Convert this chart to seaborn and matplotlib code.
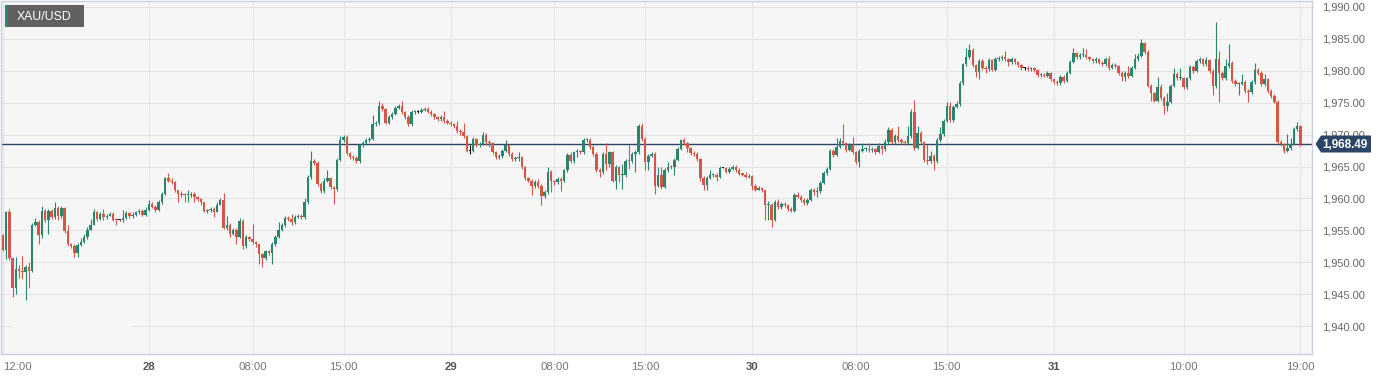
import numpy as np
import pandas as pd
import matplotlib
matplotlib.use("Agg")
import matplotlib.pyplot as plt
from matplotlib.patches import Rectangle, Polygon
import seaborn as sns

# 15-minute XAU/USD candles
symbol = "XAU/USD"
last_price = 1968.49
first_open = 1954.2

close_27 = [1952.0, 1957.9, 1950.6, 1945.9, 1949.0, 1948.6, 1948.5, 1949.2, 1948.6, 1955.9,
            1956.3, 1954.3, 1958.0, 1956.7, 1958.0, 1957.1, 1958.5, 1957.3, 1958.5, 1954.9,
            1952.8, 1952.5, 1951.4, 1952.7, 1953.2, 1953.9, 1955.1, 1955.9, 1957.9, 1956.8,
            1957.5, 1957.1, 1957.3, 1957.6, 1956.7, 1956.6, 1956.6, 1957.0, 1957.7, 1957.3,
            1957.4, 1957.8, 1958.0, 1957.4, 1958.2]
high_27 = [1954.5, 1958.1, 1958.4, 1950.8, 1950.8, 1949.5, 1951.0, 1949.5, 1950.0, 1956.2,
           1957.0, 1956.6, 1958.8, 1958.3, 1958.3, 1958.3, 1959.4, 1958.8, 1958.8, 1958.7,
           1955.9, 1953.0, 1952.9, 1953.0, 1953.8, 1954.4, 1955.5, 1956.8, 1958.4, 1958.1,
           1957.9, 1958.3, 1957.6, 1957.9, 1957.8, 1956.9, 1956.7, 1958.2, 1958.0, 1957.9,
           1957.8, 1958.1, 1958.4, 1958.3, 1958.6]
low_27 = [1951.8, 1950.5, 1950.3, 1944.6, 1945.1, 1947.6, 1947.4, 1944.1, 1945.9, 1948.4,
          1955.7, 1952.9, 1953.8, 1956.3, 1954.5, 1956.8, 1956.8, 1956.6, 1957.0, 1954.6,
          1952.5, 1952.2, 1950.8, 1950.9, 1952.6, 1953.0, 1953.7, 1955.0, 1955.8, 1956.5,
          1956.6, 1956.7, 1956.8, 1957.2, 1956.4, 1955.8, 1956.5, 1956.3, 1956.8, 1957.0,
          1957.0, 1957.3, 1957.6, 1957.2, 1957.2]

close_28 = [1959.2, 1958.7, 1958.2, 1959.4, 1960.7, 1963.2, 1962.8, 1962.6, 1961.3, 1960.7,
            1960.6, 1960.5, 1960.6, 1960.7, 1960.2, 1959.9, 1959.4, 1958.1, 1958.2, 1958.4,
            1957.9, 1959.0, 1959.8, 1955.4, 1955.8, 1954.5, 1955.0, 1954.0, 1956.5, 1952.5,
            1953.9, 1953.6, 1953.2, 1952.8, 1951.3, 1950.6, 1951.7, 1951.5, 1952.8, 1954.0,
            1955.1, 1955.9, 1956.9, 1956.8, 1956.3, 1957.1, 1957.3, 1957.1, 1959.4, 1963.3,
            1965.8, 1965.5, 1962.2, 1961.2, 1962.7, 1963.2, 1961.8, 1961.5, 1966.0, 1969.2,
            1969.7, 1967.1, 1966.5, 1966.4, 1965.8, 1968.3, 1968.7, 1969.2, 1969.3, 1971.7,
            1971.8, 1974.5, 1974.0, 1971.9, 1972.8, 1973.3, 1974.2, 1974.5, 1973.5, 1972.8,
            1971.7, 1973.5, 1973.6, 1973.6, 1973.9, 1974.0, 1973.6, 1973.2, 1972.7, 1972.45,
            1972.8, 1972.2, 1971.9]
high_28 = [1959.8, 1959.4, 1958.9, 1959.8, 1961.0, 1963.4, 1964.0, 1963.2, 1962.8, 1961.3,
           1961.1, 1960.9, 1961.3, 1961.0, 1961.0, 1960.4, 1960.0, 1959.5, 1958.4, 1958.7,
           1958.6, 1959.4, 1960.1, 1960.8, 1957.2, 1956.1, 1955.4, 1955.3, 1956.9, 1956.8,
           1954.2, 1954.1, 1956.0, 1953.4, 1952.9, 1951.5, 1952.0, 1951.9, 1953.1, 1954.3,
           1956.3, 1956.2, 1957.3, 1957.2, 1957.6, 1957.4, 1957.6, 1957.6, 1960.0, 1963.6,
           1967.4, 1966.2, 1965.8, 1962.5, 1963.2, 1964.4, 1963.4, 1962.0, 1966.3, 1969.8,
           1970.0, 1969.9, 1967.3, 1966.8, 1966.6, 1968.6, 1969.0, 1969.5, 1969.7, 1973.1,
           1972.1, 1975.2, 1975.0, 1974.2, 1973.1, 1973.6, 1974.5, 1974.8, 1975.3, 1973.7,
           1973.0, 1973.8, 1973.9, 1973.8, 1974.2, 1974.3, 1974.4, 1973.8, 1973.4, 1972.9,
           1973.1, 1973.75, 1972.4]
low_28 = [1958.0, 1958.5, 1957.9, 1958.0, 1959.2, 1960.5, 1962.6, 1962.3, 1961.0, 1959.4,
          1960.3, 1959.4, 1959.4, 1960.3, 1959.4, 1959.6, 1959.0, 1957.9, 1957.7, 1957.8,
          1957.1, 1957.8, 1958.9, 1955.2, 1955.1, 1953.9, 1954.2, 1952.8, 1953.8, 1952.1,
          1952.3, 1953.3, 1952.9, 1952.4, 1949.8, 1949.2, 1950.3, 1951.1, 1949.8, 1952.6,
          1953.8, 1954.9, 1955.6, 1956.5, 1955.8, 1956.0, 1956.9, 1956.8, 1956.8, 1959.2,
          1963.0, 1965.2, 1961.9, 1960.9, 1960.9, 1962.5, 1961.5, 1959.1, 1961.2, 1965.8,
          1968.9, 1966.8, 1966.2, 1966.0, 1965.5, 1965.6, 1968.0, 1968.5, 1968.9, 1969.1,
          1971.4, 1971.5, 1973.7, 1971.6, 1971.6, 1972.5, 1973.1, 1974.0, 1973.2, 1972.5,
          1971.4, 1971.4, 1973.3, 1973.4, 1973.4, 1973.7, 1973.4, 1972.9, 1972.4, 1972.1,
          1972.2, 1971.9, 1971.6]

close_29 = [1971.7, 1971.4, 1970.6, 1970.4, 1969.8, 1967.5, 1967.5, 1969.3, 1968.3, 1968.5,
            1970.0, 1968.8, 1968.7, 1967.3, 1966.5, 1966.6, 1967.5, 1968.4, 1967.0, 1966.2,
            1966.3, 1966.5, 1964.9, 1963.2, 1962.8, 1962.0, 1962.6, 1962.0, 1960.4, 1961.0,
            1964.1, 1962.7, 1962.5, 1963.1, 1962.8, 1964.4, 1966.8, 1965.9, 1967.2, 1967.3,
            1967.2, 1969.1, 1969.2, 1968.0, 1967.0, 1964.5, 1964.1, 1967.0, 1965.4, 1967.2,
            1962.8, 1964.9, 1963.6, 1963.7, 1965.9, 1965.8, 1967.0, 1967.2, 1971.4, 1969.3,
            1965.7, 1966.7, 1966.9, 1962.0, 1963.6, 1961.8, 1964.4, 1965.0, 1964.9, 1966.0,
            1967.8, 1969.2, 1968.65, 1967.9, 1967.1, 1967.0, 1966.2, 1963.2, 1962.1, 1963.2,
            1963.6, 1963.75, 1963.4, 1964.8, 1964.8, 1964.2, 1964.6, 1965.0, 1964.5, 1963.85,
            1963.75, 1963.4, 1963.5]
high_29 = [1972.2, 1971.9, 1972.1, 1970.9, 1971.9, 1969.9, 1968.4, 1969.6, 1969.5, 1968.8,
           1970.4, 1970.2, 1969.1, 1968.9, 1967.5, 1966.9, 1967.8, 1969.1, 1968.6, 1967.2,
           1966.6, 1967.2, 1966.7, 1965.1, 1963.4, 1963.0, 1962.9, 1963.1, 1962.2, 1961.3,
           1964.9, 1964.4, 1962.9, 1963.4, 1963.4, 1964.6, 1967.1, 1967.2, 1967.5, 1967.8,
           1967.6, 1969.4, 1969.4, 1969.5, 1968.3, 1967.2, 1964.8, 1967.3, 1968.7, 1967.5,
           1967.5, 1965.2, 1965.1, 1965.4, 1966.2, 1968.3, 1967.3, 1967.6, 1971.7, 1971.9,
           1969.6, 1967.0, 1967.2, 1967.2, 1964.9, 1965.0, 1964.7, 1965.7, 1965.3, 1966.3,
           1968.1, 1969.3, 1969.4, 1968.9, 1968.1, 1967.4, 1967.3, 1966.4, 1963.5, 1963.5,
           1964.4, 1964.0, 1964.0, 1965.1, 1964.9, 1964.9, 1964.9, 1965.3, 1965.2, 1964.7,
           1964.0, 1964.1, 1963.8]
low_29 = [1971.3, 1971.1, 1970.3, 1970.0, 1969.5, 1967.2, 1967.0, 1967.2, 1968.0, 1968.1,
          1968.3, 1968.3, 1968.0, 1967.0, 1966.2, 1966.2, 1966.4, 1967.3, 1966.7, 1965.9,
          1965.9, 1965.9, 1964.6, 1962.9, 1962.5, 1960.5, 1961.7, 1961.7, 1958.9, 1960.1,
          1960.7, 1961.0, 1962.1, 1962.2, 1961.1, 1962.5, 1964.1, 1965.6, 1965.6, 1966.5,
          1966.9, 1967.0, 1968.8, 1967.7, 1966.7, 1964.2, 1963.3, 1963.8, 1964.4, 1964.9,
          1962.5, 1961.5, 1962.55, 1961.5, 1963.4, 1964.6, 1965.5, 1964.1, 1967.0, 1969.0,
          1964.4, 1964.4, 1966.5, 1960.7, 1961.8, 1961.5, 1961.6, 1964.2, 1964.6, 1963.6,
          1965.8, 1967.6, 1968.4, 1967.2, 1966.8, 1966.7, 1965.9, 1962.8, 1961.25, 1961.25,
          1963.0, 1963.4, 1962.7, 1963.2, 1964.7, 1964.0, 1964.0, 1964.4, 1964.2, 1963.6,
          1963.5, 1963.2, 1963.2]

close_30 = [1962.0, 1961.4, 1961.6, 1961.25, 1958.9, 1959.0, 1956.7, 1959.4, 1958.65, 1959.2,
            1958.9, 1958.4, 1958.1, 1960.5, 1960.3, 1959.8, 1959.3, 1959.8, 1961.4, 1961.0,
            1961.15, 1962.4, 1964.0, 1964.6, 1967.5, 1966.8, 1968.1, 1969.0, 1968.65, 1967.6,
            1968.4, 1967.2, 1965.7, 1967.5, 1967.7, 1967.8, 1967.6, 1967.7, 1967.3, 1968.2,
            1967.8, 1968.8, 1970.8, 1968.8, 1969.8, 1969.2, 1968.9, 1968.7, 1969.8, 1973.6,
            1967.9, 1970.3, 1968.8, 1966.1, 1965.8, 1966.6, 1965.8, 1969.1, 1970.1, 1972.2,
            1974.5, 1972.3, 1974.4, 1974.8, 1978.1, 1981.0, 1982.1, 1983.3, 1980.9, 1979.8,
            1981.6, 1980.5, 1980.3, 1981.7, 1980.2, 1981.8, 1982.0, 1982.2, 1981.8, 1981.4,
            1981.8, 1981.4, 1980.9, 1980.4, 1980.4, 1980.3, 1980.4, 1980.1, 1979.3, 1979.4,
            1979.2, 1979.6, 1978.7]
high_30 = [1963.7, 1962.2, 1962.0, 1961.8, 1961.4, 1959.6, 1959.3, 1959.7, 1959.95, 1959.5,
           1959.5, 1959.1, 1958.6, 1960.8, 1961.0, 1960.5, 1960.0, 1960.1, 1961.7, 1961.6,
           1961.8, 1962.7, 1964.3, 1964.9, 1967.8, 1967.7, 1969.5, 1969.5, 1971.7, 1968.9,
           1968.7, 1969.6, 1967.5, 1967.8, 1968.65, 1968.1, 1968.65, 1968.0, 1967.9, 1968.7,
           1968.4, 1969.3, 1971.15, 1971.0, 1970.1, 1971.3, 1969.5, 1969.1, 1971.4, 1974.0,
           1975.5, 1971.4, 1970.6, 1969.0, 1968.3, 1967.5, 1966.9, 1969.4, 1971.15, 1972.5,
           1975.05, 1975.05, 1974.7, 1975.3, 1978.4, 1981.3, 1983.65, 1984.2, 1983.5, 1981.1,
           1981.9, 1981.8, 1980.8, 1982.0, 1981.9, 1982.1, 1982.3, 1982.5, 1983.1, 1982.0,
           1982.1, 1982.0, 1981.6, 1981.1, 1980.6, 1980.8, 1980.6, 1980.6, 1980.3, 1979.7,
           1979.6, 1979.9, 1979.8]
low_30 = [1961.25, 1961.1, 1961.25, 1961.0, 1956.6, 1956.6, 1955.5, 1956.4, 1958.4, 1958.4,
          1958.6, 1958.1, 1957.9, 1957.9, 1960.0, 1959.5, 1959.0, 1959.0, 1959.6, 1960.5,
          1960.2, 1960.9, 1962.2, 1963.7, 1964.4, 1966.5, 1966.6, 1967.9, 1968.4, 1967.3,
          1967.4, 1967.0, 1965.4, 1965.0, 1967.3, 1967.5, 1967.3, 1967.2, 1967.0, 1967.1,
          1967.0, 1967.5, 1968.6, 1968.5, 1968.6, 1968.9, 1968.6, 1968.3, 1968.5, 1969.5,
          1967.6, 1967.7, 1968.5, 1965.7, 1965.4, 1965.5, 1964.4, 1965.5, 1968.8, 1969.8,
          1972.0, 1972.0, 1972.0, 1974.2, 1974.5, 1977.8, 1980.8, 1981.8, 1980.6, 1979.0,
          1978.7, 1980.2, 1979.7, 1980.0, 1979.9, 1979.9, 1981.6, 1981.7, 1981.5, 1980.7,
          1981.1, 1981.1, 1980.6, 1980.1, 1980.2, 1980.0, 1980.0, 1979.8, 1979.0, 1979.1,
          1978.96, 1979.0, 1978.4]

close_31 = [1978.3, 1978.1, 1979.1, 1978.4, 1979.7, 1981.4, 1982.8, 1982.1, 1982.45, 1982.5,
            1982.1, 1981.8, 1981.6, 1981.8, 1981.3, 1981.0, 1981.8, 1980.5, 1980.9, 1980.8,
            1979.7, 1979.0, 1979.6, 1979.2, 1980.5, 1981.8, 1982.3, 1984.3, 1983.0, 1977.65,
            1976.5, 1975.3, 1977.4, 1975.8, 1974.5, 1975.15, 1977.65, 1979.5, 1978.8, 1978.9,
            1977.4, 1978.8, 1980.6, 1980.0, 1981.6, 1981.8, 1981.0, 1981.7, 1980.0, 1977.55,
            1981.9, 1979.6, 1978.8, 1980.8, 1981.2, 1978.4, 1977.9, 1978.0, 1978.3, 1976.9,
            1976.7, 1978.3, 1980.15, 1979.6, 1977.9, 1978.7, 1976.9, 1976.1, 1975.15, 1968.8,
            1968.5, 1967.5, 1967.9, 1968.5, 1970.9, 1971.3, 1968.49]
high_31 = [1978.9, 1978.5, 1979.4, 1979.3, 1980.0, 1981.7, 1983.65, 1983.0, 1982.8, 1983.65,
           1983.4, 1982.3, 1982.0, 1982.1, 1982.0, 1981.5, 1982.1, 1982.3, 1981.2, 1981.3,
           1980.9, 1979.9, 1979.9, 1980.8, 1980.8, 1982.6, 1982.8, 1985.05, 1984.5, 1983.2,
           1977.9, 1976.7, 1979.0, 1977.9, 1976.1, 1976.6, 1977.9, 1980.4, 1979.8, 1980.4,
           1979.1, 1979.1, 1980.9, 1980.9, 1981.9, 1982.1, 1982.0, 1982.1, 1981.9, 1980.3,
           1987.65, 1983.1, 1979.9, 1981.9, 1984.2, 1981.5, 1978.7, 1978.3, 1979.5, 1978.6,
           1977.2, 1978.6, 1981.2, 1980.4, 1979.9, 1979.5, 1978.9, 1977.1, 1976.3, 1975.4,
           1969.1, 1968.7, 1970.1, 1969.4, 1971.2, 1972.0, 1971.5]
low_31 = [1977.9, 1977.7, 1977.8, 1978.1, 1978.2, 1979.5, 1981.2, 1981.8, 1981.9, 1982.2,
          1981.8, 1981.5, 1981.2, 1981.3, 1981.0, 1980.7, 1980.8, 1980.2, 1980.3, 1980.5,
          1979.4, 1978.4, 1978.4, 1978.9, 1979.0, 1980.3, 1981.6, 1982.1, 1982.7, 1977.4,
          1975.3, 1975.05, 1975.1, 1975.5, 1973.2, 1973.75, 1974.9, 1977.4, 1978.5, 1978.6,
          1977.1, 1977.2, 1978.5, 1979.7, 1979.8, 1981.3, 1980.7, 1980.8, 1979.7, 1976.2,
          1977.3, 1975.05, 1978.5, 1978.5, 1980.5, 1978.1, 1977.6, 1976.2, 1977.7, 1976.6,
          1975.05, 1976.4, 1978.0, 1979.3, 1977.6, 1977.6, 1976.6, 1975.8, 1974.9, 1968.5,
          1968.2, 1967.1, 1967.2, 1967.6, 1968.3, 1970.6, 1968.2]

# candle index of each axis label
tick_pos = [0, 45, 77, 105, 138, 170, 198, 231, 263, 291, 324, 364, 400]
tick_labels = ["12:00", "28", "08:00", "15:00", "29", "08:00", "15:00",
               "30", "08:00", "15:00", "31", "10:00", "19:00"]
day_labels = {"28", "29", "30", "31"}
price_ticks = [1940, 1945, 1950, 1955, 1960, 1965, 1970, 1975, 1980, 1985, 1990]

# Build the OHLC frame
closes = np.array(close_27 + close_28 + close_29 + close_30 + close_31)
df = pd.DataFrame({
    "close": closes,
    "high": high_27 + high_28 + high_29 + high_30 + high_31,
    "low": low_27 + low_28 + low_29 + low_30 + low_31,
})
df["open"] = np.concatenate([[first_open], closes[:-1]])
df["idx"] = np.arange(len(df))

GREEN = "#2a8570"
RED = "#d65645"
NAVY = "#2c4466"
BG = "#f6f6f6"
GRID = "#e4e4e4"
BORDER = "#c8d0e2"

df["color"] = np.where(df["close"] > df["open"], GREEN,
                       np.where(df["close"] < df["open"], RED, "#111111"))
df["body_lo"] = df[["open", "close"]].min(axis=1)
df["body_h"] = (df["close"] - df["open"]).abs().clip(lower=0.16)

sns.set_style("white")
plt.rcParams["font.family"] = ["Liberation Sans", "DejaVu Sans"]

W, H = 1383, 380
fig = plt.figure(figsize=(W / 100, H / 100), dpi=100)
fig.patch.set_facecolor("white")
ax = fig.add_axes([1 / W, 26 / H, 1311 / W, 353 / H])
ax.set_facecolor(BG)

# wicks and bodies
ax.vlines(df["idx"], df["low"], df["high"], colors=df["color"], lw=0.8, zorder=3)
ax.bar(df["idx"], df["body_h"], bottom=df["body_lo"], width=0.76,
       color=df["color"], linewidth=0, zorder=4)

# last price line
ax.axhline(last_price, color=NAVY, lw=1.0, zorder=2.5)

ax.set_xlim(-0.6, 403.6)
ax.set_ylim(1935.625, 1990.94)

ax.set_yticks(price_ticks)
ax.set_yticklabels([f"{v:,.2f}" for v in price_ticks])
ax.yaxis.tick_right()
ax.set_xticks(tick_pos)
ax.set_xticklabels(tick_labels)
ax.tick_params(axis="y", length=0, pad=7, labelsize=8.0, labelcolor="#666666")
ax.tick_params(axis="x", length=0, pad=6, labelsize=8.2, labelcolor="#777777")
for lab in ax.get_xticklabels():
    if lab.get_text() in day_labels:
        lab.set_fontweight("bold")
        lab.set_color("#555555")
ax.get_xticklabels()[0].set_horizontalalignment("left")

ax.grid(True, color=GRID, lw=0.8, zorder=0)
ax.set_axisbelow(True)
for side in ["left", "right", "top", "bottom"]:
    ax.spines[side].set_color(BORDER)
    ax.spines[side].set_linewidth(1.0)

# small gap in the lowest grid line, as in the source
ax.add_patch(Rectangle((12 / 1311, (354 - 327.5) / 353), 119 / 1311, 3 / 353,
                       transform=ax.transAxes, facecolor=BG, edgecolor="none", zorder=1))


def px(x, y):
    return (x / W, 1 - y / H)


# price tag on the right axis
tag = [px(1315.5, 144), px(1321, 135.5), px(1371, 135.5), px(1371, 152.5), px(1321, 152.5)]
fig.patches.append(Polygon(tag, closed=True, transform=fig.transFigure,
                           facecolor=NAVY, edgecolor="none"))
fig.text(*px(1345, 144.5), f"{last_price:,.2f}", color="white", fontsize=8.4,
         fontweight="bold", ha="center", va="center")

# symbol badge
fig.patches.append(Rectangle(px(5, 27), 79 / W, 22 / H, transform=fig.transFigure,
                             facecolor="#616161", edgecolor="none"))
fig.patches.append(Rectangle(px(5, 27), 2.5 / W, 22 / H, transform=fig.transFigure,
                             facecolor=GREEN, edgecolor="none"))
fig.text(*px(17, 16.5), symbol, color="white", fontsize=8.8, ha="left", va="center")

fig.savefig("out.png", dpi=100, facecolor=fig.get_facecolor())
